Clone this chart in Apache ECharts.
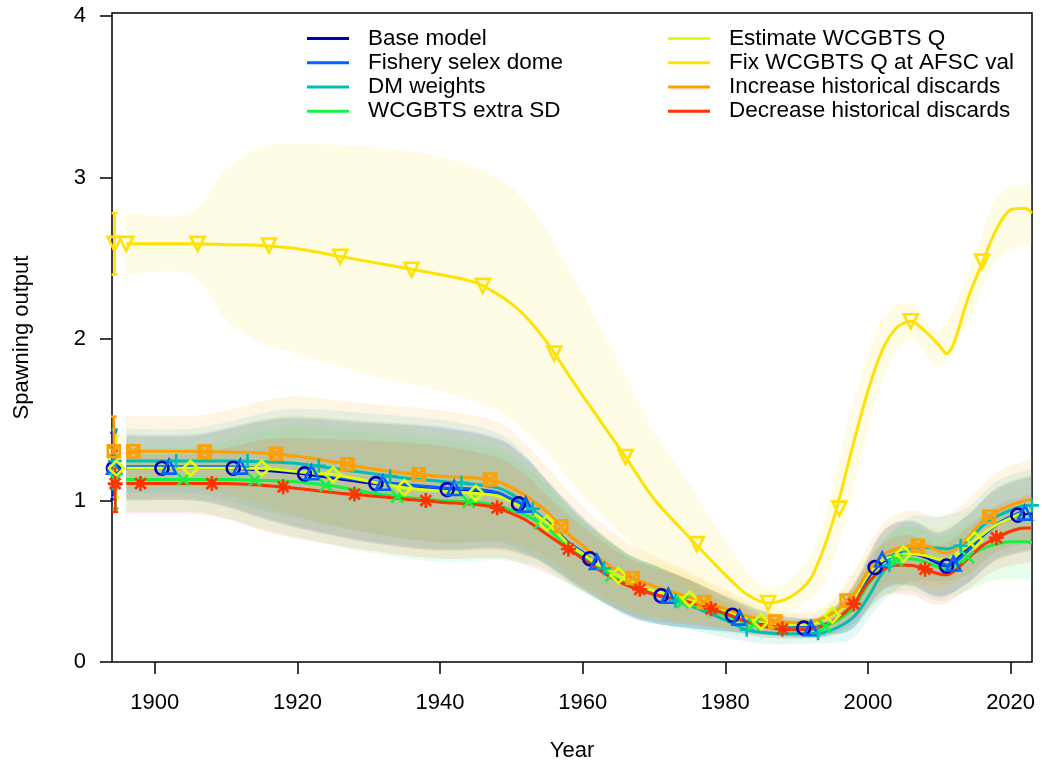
<!DOCTYPE html>
<html><head><meta charset="utf-8">
<script src="https://cdn.jsdelivr.net/npm/echarts@6/dist/echarts.min.js"></script>
<style>html,body{margin:0;padding:0;background:#fff}#c{width:1042px;height:769px}</style>
</head><body><div id="c"></div>
<script>
const MODELS = ['Base model','Fishery selex dome','DM weights','WCGBTS extra SD','Estimate WCGBTS Q','Fix WCGBTS Q at AFSC val','Increase historical discards','Decrease historical discards'];
const COLORS = ['#0000B4','#0063FF','#00BEB4','#13F240','#DDFE0B','#FFE201','#FF9F00','#FF3300'];
const X_TICKS = [1900,1920,1940,1960,1980,2000,2020];
const Y_TICKS = [0,1,2,3,4];

const YEARS = [1896,1900,1905,1910,1915,1920,1925,1930,1935,1940,1945,1948,1950,1952,1955,1958,1960,1963,1966,1970,1975,1980,1983,1986,1989,1992,1995,1998,2000,2002,2004,2006,2008,2010,2011,2012,2014,2016,2018,2020,2022,2023];
const EST_BASE  = [1.20,1.20,1.20,1.20,1.19,1.17,1.14,1.11,1.09,1.07,1.06,1.04,1.00,0.96,0.86,0.73,0.67,0.56,0.48,0.42,0.36,0.30,0.26,0.235,0.215,0.21,0.25,0.34,0.52,0.62,0.66,0.67,0.65,0.61,0.595,0.615,0.70,0.78,0.85,0.89,0.92,0.92];
const EST_SELEX = [1.21,1.21,1.21,1.21,1.20,1.18,1.15,1.12,1.10,1.08,1.07,1.05,1.01,0.97,0.87,0.74,0.68,0.57,0.49,0.42,0.36,0.30,0.26,0.235,0.215,0.21,0.25,0.35,0.53,0.63,0.67,0.68,0.66,0.62,0.60,0.61,0.69,0.78,0.85,0.90,0.93,0.93];
const EST_DM    = [1.245,1.245,1.245,1.245,1.24,1.23,1.20,1.17,1.14,1.12,1.10,1.08,1.04,0.98,0.86,0.72,0.66,0.57,0.49,0.42,0.35,0.26,0.20,0.18,0.175,0.175,0.20,0.28,0.40,0.55,0.64,0.70,0.71,0.705,0.70,0.71,0.75,0.84,0.90,0.94,0.97,0.97];
const EST_XSD   = [1.13,1.13,1.13,1.13,1.125,1.115,1.09,1.05,1.02,1.00,0.99,0.97,0.94,0.91,0.83,0.71,0.65,0.56,0.49,0.42,0.36,0.29,0.245,0.22,0.205,0.205,0.24,0.34,0.48,0.58,0.63,0.64,0.62,0.585,0.575,0.59,0.65,0.70,0.73,0.745,0.745,0.74];
const EST_QEST  = [1.20,1.20,1.20,1.20,1.20,1.18,1.16,1.12,1.08,1.06,1.045,1.03,0.99,0.95,0.86,0.73,0.67,0.58,0.51,0.44,0.39,0.32,0.27,0.245,0.23,0.235,0.29,0.40,0.54,0.63,0.66,0.67,0.66,0.635,0.63,0.655,0.72,0.79,0.85,0.89,0.93,0.94];
const EST_QFIX  = [2.59,2.59,2.59,2.585,2.58,2.56,2.52,2.48,2.44,2.40,2.35,2.28,2.22,2.14,1.98,1.78,1.65,1.46,1.27,1.01,0.77,0.54,0.42,0.365,0.40,0.52,0.86,1.36,1.68,1.93,2.07,2.11,2.05,1.96,1.91,1.97,2.25,2.47,2.68,2.80,2.81,2.78];
const EST_INC   = [1.305,1.305,1.305,1.30,1.295,1.275,1.24,1.20,1.17,1.15,1.14,1.12,1.08,1.03,0.93,0.79,0.72,0.62,0.54,0.47,0.40,0.33,0.285,0.255,0.245,0.25,0.30,0.42,0.56,0.66,0.70,0.72,0.72,0.685,0.675,0.69,0.77,0.87,0.93,0.97,1.00,1.01];
const EST_DEC   = [1.105,1.105,1.105,1.105,1.095,1.075,1.05,1.03,1.01,0.99,0.975,0.955,0.92,0.88,0.79,0.70,0.64,0.55,0.48,0.42,0.37,0.30,0.25,0.215,0.20,0.205,0.25,0.36,0.49,0.57,0.60,0.60,0.575,0.545,0.54,0.56,0.64,0.72,0.77,0.81,0.83,0.83];

const CI_YEARS = [1896,1905,1910,1915,1920,1930,1940,1948,1952,1955,1960,1966,1970,1975,1980,1986,1992,1995,1998,2002,2006,2010,2014,2018,2023];
const HI_BASE  = [1.40,1.40,1.44,1.49,1.51,1.48,1.45,1.38,1.26,1.12,0.89,0.67,0.60,0.51,0.41,0.305,0.27,0.33,0.47,0.80,0.87,0.80,0.91,1.07,1.15];
const LO_BASE  = [1.00,1.00,0.96,0.89,0.83,0.74,0.69,0.70,0.66,0.60,0.45,0.29,0.24,0.21,0.19,0.165,0.15,0.17,0.21,0.44,0.47,0.40,0.49,0.63,0.69];
const HI_SELEX = [1.41,1.41,1.45,1.50,1.52,1.49,1.46,1.39,1.27,1.13,0.90,0.68,0.60,0.51,0.41,0.305,0.27,0.33,0.48,0.81,0.88,0.81,0.91,1.08,1.16];
const LO_SELEX = [1.01,1.01,0.97,0.90,0.84,0.75,0.70,0.71,0.67,0.61,0.46,0.30,0.24,0.21,0.19,0.165,0.15,0.17,0.22,0.45,0.48,0.41,0.49,0.64,0.70];
const HI_DM    = [1.445,1.445,1.485,1.54,1.57,1.54,1.50,1.42,1.28,1.12,0.88,0.68,0.60,0.50,0.37,0.25,0.235,0.28,0.41,0.73,0.90,0.90,0.96,1.12,1.20];
const LO_DM    = [1.045,1.045,1.005,0.94,0.89,0.80,0.74,0.74,0.68,0.60,0.44,0.30,0.24,0.20,0.15,0.11,0.115,0.12,0.15,0.37,0.50,0.50,0.54,0.68,0.74];
const HI_XSD   = [1.33,1.33,1.37,1.425,1.455,1.42,1.38,1.31,1.21,1.09,0.87,0.68,0.60,0.51,0.40,0.29,0.265,0.32,0.47,0.76,0.84,0.78,0.86,0.95,0.97];
const LO_XSD   = [0.93,0.93,0.89,0.825,0.775,0.68,0.62,0.63,0.61,0.57,0.43,0.30,0.24,0.21,0.18,0.15,0.145,0.16,0.21,0.40,0.44,0.38,0.44,0.51,0.51];
const HI_QEST  = [1.40,1.40,1.44,1.50,1.52,1.49,1.44,1.37,1.25,1.12,0.89,0.70,0.62,0.54,0.43,0.315,0.295,0.37,0.53,0.81,0.87,0.83,0.93,1.07,1.17];
const LO_QEST  = [1.00,1.00,0.96,0.90,0.84,0.75,0.68,0.69,0.65,0.60,0.45,0.32,0.26,0.24,0.21,0.175,0.175,0.21,0.27,0.45,0.47,0.43,0.51,0.63,0.71];
const HI_QFIX  = [2.78,2.78,3.05,3.19,3.21,3.19,3.13,3.00,2.85,2.67,2.28,1.78,1.43,1.10,0.75,0.46,0.66,1.08,1.62,2.12,2.22,2.05,2.40,2.87,2.97];
const LO_QFIX  = [2.40,2.40,2.12,1.98,1.91,1.78,1.68,1.56,1.43,1.30,1.03,0.77,0.60,0.45,0.33,0.27,0.39,0.62,1.08,1.74,2.00,1.83,2.10,2.49,2.59];
const HI_INC   = [1.525,1.525,1.56,1.615,1.645,1.60,1.56,1.49,1.35,1.21,0.96,0.75,0.66,0.56,0.45,0.33,0.315,0.385,0.56,0.85,0.94,0.90,1.00,1.17,1.26];
const LO_INC   = [1.085,1.085,1.04,0.975,0.905,0.80,0.74,0.75,0.71,0.65,0.48,0.33,0.28,0.24,0.21,0.18,0.185,0.215,0.28,0.47,0.50,0.46,0.54,0.69,0.76];
const HI_DEC   = [1.29,1.29,1.325,1.375,1.385,1.37,1.34,1.265,1.16,1.03,0.84,0.655,0.585,0.51,0.40,0.28,0.26,0.325,0.48,0.735,0.785,0.725,0.83,0.97,1.04];
const LO_DEC   = [0.92,0.92,0.885,0.815,0.765,0.69,0.64,0.645,0.60,0.55,0.44,0.305,0.255,0.23,0.20,0.15,0.15,0.175,0.24,0.405,0.415,0.355,0.45,0.57,0.62];

// initial (virgin) values, plotted at the left edge with error bars
const VIRG_YEAR = [1894.2,1894.3,1894.4,1894.5,1894.6,1894.35,1894.25,1894.45];
const VIRG_EST = [1.20,1.21,1.245,1.13,1.20,2.59,1.305,1.105];
const VIRG_LO  = [1.01,1.02,1.07,0.95,1.02,2.40,1.10,0.93];
const VIRG_HI  = [1.42,1.43,1.44,1.33,1.40,2.78,1.52,1.31];

// point markers on each line
const MK_YEARS_BASE  = [1901,1911,1921,1931,1941,1951,1961,1971,1981,1991,2001,2011,2021];
const MK_BASE        = [1.20,1.20,1.165,1.105,1.068,0.98,0.64,0.41,0.29,0.21,0.585,0.595,0.91];
const MK_YEARS_SELEX = [1902,1912,1922,1932,1942,1952,1962,1972,1982,1992,2002,2012,2022];
const MK_SELEX       = [1.21,1.21,1.175,1.11,1.078,0.975,0.62,0.41,0.275,0.21,0.635,0.61,0.925];
const MK_YEARS_DM    = [1903,1913,1923,1933,1943,1953,1963,1973,1983,1993,2003,2013,2023];
const MK_DM          = [1.245,1.245,1.215,1.15,1.11,0.95,0.58,0.38,0.20,0.178,0.60,0.72,0.97];
const MK_YEARS_XSD   = [1904,1914,1924,1934,1944,1954,1964,1974,1984,1994,2004,2014];
const MK_XSD         = [1.13,1.127,1.095,1.025,0.992,0.86,0.535,0.37,0.235,0.22,0.63,0.65];
const MK_YEARS_QEST  = [1905,1915,1925,1935,1945,1955,1965,1975,1985,1995,2005,2015];
const MK_QEST        = [1.20,1.20,1.16,1.08,1.045,0.86,0.535,0.39,0.25,0.29,0.67,0.755];
const MK_YEARS_QFIX  = [1896,1906,1916,1926,1936,1946,1956,1966,1976,1986,1996,2006,2016];
const MK_QFIX        = [2.59,2.59,2.58,2.51,2.43,2.33,1.91,1.27,0.73,0.365,0.95,2.11,2.48];
const MK_YEARS_INC   = [1897,1907,1917,1927,1937,1947,1957,1967,1977,1987,1997,2007,2017];
const MK_INC         = [1.305,1.303,1.29,1.225,1.163,1.13,0.84,0.52,0.37,0.25,0.38,0.72,0.90];
const MK_YEARS_DEC   = [1898,1908,1918,1928,1938,1948,1958,1968,1978,1988,1998,2008,2018];
const MK_DEC         = [1.105,1.105,1.085,1.04,1.00,0.955,0.70,0.45,0.33,0.205,0.36,0.575,0.77];

const EST = [EST_BASE,EST_SELEX,EST_DM,EST_XSD,EST_QEST,EST_QFIX,EST_INC,EST_DEC];
const HI = [HI_BASE,HI_SELEX,HI_DM,HI_XSD,HI_QEST,HI_QFIX,HI_INC,HI_DEC];
const LO = [LO_BASE,LO_SELEX,LO_DM,LO_XSD,LO_QEST,LO_QFIX,LO_INC,LO_DEC];
const MKY = [MK_YEARS_BASE,MK_YEARS_SELEX,MK_YEARS_DM,MK_YEARS_XSD,MK_YEARS_QEST,MK_YEARS_QFIX,MK_YEARS_INC,MK_YEARS_DEC];
const MKV = [MK_BASE,MK_SELEX,MK_DM,MK_XSD,MK_QEST,MK_QFIX,MK_INC,MK_DEC];

const SYMS = ['circle','triangle','path://M0,-1L0,1M-1,0L1,0','path://M-1,-1L1,1M-1,1L1,-1','diamond','triangle',
  'path://M-1,-1L1,-1L1,1L-1,1ZM-1,-1L1,1M-1,1L1,-1','path://M0,-1L0,1M-1,0L1,0M-0.72,-0.72L0.72,0.72M-0.72,0.72L0.72,-0.72'];
const SYM_SIZE = [13,14,14,12,15,14,12,15];
const SYM_ROT = [0,0,0,0,0,180,0,0];

const FONT = '"Liberation Sans", Arial, Helvetica, sans-serif';

// Catmull-Rom spline through pixel points -> SVG path commands
function splineCmds(pts) {
  let s = '';
  for (let i = 0; i < pts.length - 1; i++) {
    const p0 = pts[i - 1] || pts[i], p1 = pts[i], p2 = pts[i + 1], p3 = pts[i + 2] || p2;
    const c1 = [p1[0] + (p2[0] - p0[0]) / 6, p1[1] + (p2[1] - p0[1]) / 6];
    const c2 = [p2[0] - (p3[0] - p1[0]) / 6, p2[1] - (p3[1] - p1[1]) / 6];
    s += 'C' + c1[0].toFixed(2) + ',' + c1[1].toFixed(2) + ' ' + c2[0].toFixed(2) + ',' + c2[1].toFixed(2) + ' ' + p2[0].toFixed(2) + ',' + p2[1].toFixed(2);
  }
  return s;
}

const series = [];
for (let i = 0; i < 8; i++) {
  const c = COLORS[i];
  series.push({
    name: 'ci_' + i, type: 'custom', z: 1, silent: true, clip: true,
    encode: {x: 0, y: [1, 2]},
    data: CI_YEARS.map((y, k) => [y, LO[i][k], HI[i][k]]),
    renderItem: (params, api) => {
      if (params.dataIndexInside !== 0) return null;
      const n = CI_YEARS.length;
      const up = [], dn = [];
      for (let k = 0; k < n; k++) {
        up.push(api.coord([api.value(0, k), api.value(2, k)]));
        dn.push(api.coord([api.value(0, k), api.value(1, k)]));
      }
      dn.reverse();
      const d = 'M' + up[0][0] + ',' + up[0][1] + splineCmds(up) + 'L' + dn[0][0] + ',' + dn[0][1] + splineCmds(dn) + 'Z';
      return {type: 'path', shape: {pathData: d}, style: {fill: c, opacity: 0.1, stroke: null}};
    }
  });
}
for (let i = 0; i < 8; i++) {
  const c = COLORS[i];
  series.push({
    name: MODELS[i], type: 'line', smooth: 0.3, symbol: 'none', z: 3,
    itemStyle: {color: c}, lineStyle: {color: c, width: 3},
    data: YEARS.map((y, k) => [y, EST[i][k]])
  });
}
for (let i = 0; i < 8; i++) {
  const c = COLORS[i];
  series.push({
    name: 'err_' + i, type: 'custom', z: 4, silent: true,
    encode: {x: 0, y: [1, 2]},
    data: [[VIRG_YEAR[i], VIRG_LO[i], VIRG_HI[i]]],
    renderItem: (params, api) => {
      const a = api.coord([api.value(0), api.value(1)]);
      const b = api.coord([api.value(0), api.value(2)]);
      const cap = 3, st = {stroke: c, lineWidth: 2.5};
      return {type: 'group', children: [
        {type: 'line', shape: {x1: a[0], y1: a[1], x2: b[0], y2: b[1]}, style: st},
        {type: 'line', shape: {x1: a[0] - cap, y1: a[1], x2: a[0] + cap, y2: a[1]}, style: st},
        {type: 'line', shape: {x1: b[0] - cap, y1: b[1], x2: b[0] + cap, y2: b[1]}, style: st}
      ]};
    }
  });
  series.push({
    name: 'pts_' + i, type: 'scatter', z: 5, silent: true,
    symbol: SYMS[i], symbolSize: SYM_SIZE[i], symbolRotate: SYM_ROT[i],
    itemStyle: {color: 'rgba(0,0,0,0)', borderColor: c, borderWidth: 2.6, opacity: 1},
    data: [[VIRG_YEAR[i], VIRG_EST[i]]].concat(MKY[i].map((y, k) => [y, MKV[i][k]]))
  });
}

const legendCommon = {
  orient: 'vertical', icon: 'rect', itemWidth: 42, itemHeight: 3, itemGap: 0, padding: 0,
  selectedMode: false,
  textStyle: {fontFamily: FONT, fontSize: 22.5, color: '#000', lineHeight: 24.2, padding: [0, 0, 0, 14]}
};
const chart = echarts.init(document.getElementById('c'), null, {renderer: 'canvas'});
chart.setOption({
  backgroundColor: '#fff',
  animation: false,
  textStyle: {fontFamily: FONT},
  grid: {left: 112, right: 10, top: 13, bottom: 107, show: true, borderColor: '#000', borderWidth: 1.5, backgroundColor: 'transparent'},
  legend: [
    Object.assign({left: 307, top: 26.5, data: MODELS.slice(0, 4)}, legendCommon),
    Object.assign({left: 668, top: 26.5, data: MODELS.slice(4)}, legendCommon)
  ],
  xAxis: {
    type: 'value', min: 1894, max: 2023,
    name: 'Year', nameLocation: 'middle', nameGap: 78,
    nameTextStyle: {fontFamily: FONT, fontSize: 22, color: '#000'},
    axisLine: {show: false}, splitLine: {show: false},
    axisTick: {show: true, length: 12, customValues: X_TICKS, lineStyle: {color: '#000', width: 1.5}},
    axisLabel: {customValues: X_TICKS, margin: 30, fontFamily: FONT, fontSize: 22, color: '#000', formatter: v => String(v)}
  },
  yAxis: {
    type: 'value', min: 0, max: 4.02,
    name: 'Spawning output', nameLocation: 'middle', nameGap: 79,
    nameTextStyle: {fontFamily: FONT, fontSize: 22, color: '#000'},
    axisLine: {show: false}, splitLine: {show: false},
    axisTick: {show: true, length: 12, customValues: Y_TICKS, lineStyle: {color: '#000', width: 1.5}},
    axisLabel: {customValues: Y_TICKS, margin: 26, fontFamily: FONT, fontSize: 22, color: '#000', formatter: v => String(v)}
  },
  series: series
});
</script></body></html>
